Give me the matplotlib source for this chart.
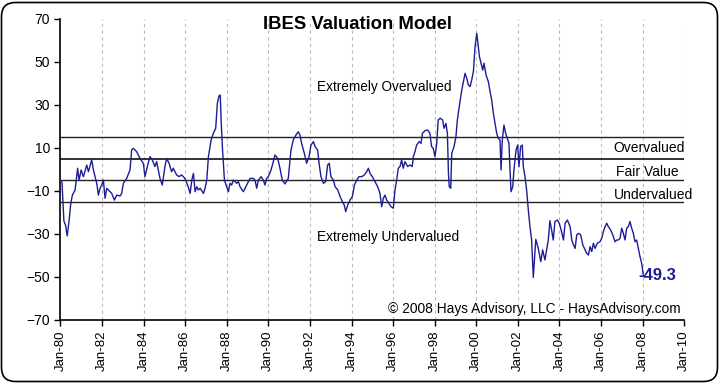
import matplotlib
matplotlib.use("Agg")
import matplotlib.pyplot as plt
from matplotlib.patches import FancyBboxPatch

plt.rcParams['font.family'] = ['Liberation Sans', 'DejaVu Sans']

# IBES valuation model readings (fractional year, % over/under valued)
years = [
    1980.0, 1980.08, 1980.17, 1980.25, 1980.33, 1980.42, 1980.5, 1980.58,
    1980.71, 1980.83, 1980.9, 1981.0, 1981.11, 1981.27, 1981.35, 1981.51,
    1981.59, 1981.75, 1981.83, 1981.91, 1981.99, 1982.07, 1982.15, 1982.23,
    1982.31, 1982.47, 1982.6, 1982.71, 1982.87, 1982.95, 1983.03, 1983.19,
    1983.35, 1983.43, 1983.51, 1983.67, 1983.83, 1983.99, 1984.07, 1984.2,
    1984.31, 1984.42, 1984.55, 1984.63, 1984.71, 1984.79, 1984.9, 1985.03,
    1985.11, 1985.23, 1985.35, 1985.43, 1985.59, 1985.71, 1985.83, 1985.99,
    1986.15, 1986.24, 1986.32, 1986.4, 1986.48, 1986.56, 1986.64, 1986.72,
    1986.88, 1986.96, 1987.04, 1987.12, 1987.25, 1987.36, 1987.47, 1987.55,
    1987.63, 1987.69, 1987.73, 1987.79, 1987.89, 1988.0, 1988.08, 1988.16,
    1988.24, 1988.32, 1988.48, 1988.56, 1988.64, 1988.8, 1988.96, 1989.12,
    1989.28, 1989.36, 1989.44, 1989.52, 1989.65, 1989.76, 1989.84, 1989.92,
    1990.0, 1990.13, 1990.24, 1990.32, 1990.45, 1990.56, 1990.67, 1990.8,
    1990.96, 1991.09, 1991.2, 1991.33, 1991.44, 1991.52, 1991.6, 1991.73,
    1991.84, 1991.96, 1992.05, 1992.17, 1992.25, 1992.37, 1992.44, 1992.53,
    1992.65, 1992.76, 1992.85, 1992.93, 1993.01, 1993.13, 1993.21, 1993.34,
    1993.45, 1993.56, 1993.65, 1993.72, 1993.82, 1993.93, 1994.04, 1994.14,
    1994.25, 1994.36, 1994.49, 1994.62, 1994.73, 1994.81, 1994.89, 1995.0,
    1995.13, 1995.26, 1995.37, 1995.45, 1995.53, 1995.61, 1995.69, 1995.8,
    1995.9, 1996.01, 1996.09, 1996.17, 1996.25, 1996.33, 1996.41, 1996.49,
    1996.57, 1996.7, 1996.81, 1996.92, 1996.97, 1997.05, 1997.13, 1997.25,
    1997.34, 1997.41, 1997.53, 1997.66, 1997.77, 1997.85, 1997.93, 1998.01,
    1998.09, 1998.17, 1998.26, 1998.38, 1998.45, 1998.54, 1998.61, 1998.66,
    1998.7, 1998.77, 1998.82, 1998.93, 1999.02, 1999.09, 1999.18, 1999.3,
    1999.38, 1999.46, 1999.54, 1999.62, 1999.7, 1999.78, 1999.86, 1999.94,
    2000.02, 2000.07, 2000.15, 2000.23, 2000.31, 2000.37, 2000.47, 2000.58,
    2000.66, 2000.74, 2000.82, 2000.9, 2000.98, 2001.06, 2001.14, 2001.19,
    2001.25, 2001.33, 2001.41, 2001.49, 2001.57, 2001.62, 2001.67, 2001.75,
    2001.81, 2001.91, 2001.99, 2002.05, 2002.13, 2002.21, 2002.26, 2002.34,
    2002.42, 2002.5, 2002.58, 2002.66, 2002.74, 2002.86, 2002.98, 2003.1,
    2003.19, 2003.3, 2003.38, 2003.46, 2003.54, 2003.62, 2003.7, 2003.78,
    2003.9, 2003.99, 2004.1, 2004.19, 2004.27, 2004.38, 2004.51, 2004.59,
    2004.67, 2004.75, 2004.83, 2004.91, 2005.02, 2005.12, 2005.23, 2005.31,
    2005.39, 2005.47, 2005.55, 2005.63, 2005.71, 2005.82, 2005.95, 2006.03,
    2006.11, 2006.19, 2006.27, 2006.35, 2006.46, 2006.56, 2006.67, 2006.75,
    2006.83, 2006.91, 2006.99, 2007.07, 2007.15, 2007.23, 2007.31, 2007.39,
    2007.47, 2007.55, 2007.63, 2007.71, 2007.79, 2007.87, 2007.95, 2008.03,
]
ibes = [
    -5, -6, -24, -26, -31, -24, -16, -12,
    -9.6, 0.5, -5, -0.3, -3.4, 2.0, -1.1, 4.4,
    -0.3, -6.5, -12, -8.8, -7.3, -5, -13.5, -8.8,
    -9.6, -11.2, -14.3, -12, -12.4, -11.2, -6.5, -4.2,
    -0.3, 9.0, 9.8, 8.2, 5.1, 2.8, -3.4, 2.0,
    5.9, 4.4, 1.3, 3.6, -0.3, -4.2, -7.3, 1.3,
    5.1, 2.8, -1.1, 0.5, -2.6, -3.4, -2.6, -4.2,
    -8.1, -11.2, -5, -1.9, -10.4, -8.1, -9.6, -8.8,
    -11.2, -8.8, -5, 5.9, 13.7, 16.8, 19.1, 30.7,
    34.2, 34.6, 23, 10.6, -5, -8.1, -10.4, -6.5,
    -7.3, -5, -6.5, -5.7, -8.1, -10.4, -7.3, -4.2,
    -4.2, -5, -8.8, -5, -3.4, -5, -7.3, -4.2,
    -3.4, -0.3, 3.6, 6.7, 5.1, 0.5, -5, -6.8,
    -4.2, 9.0, 13.7, 16, 17.5, 16, 12.1, 7.5,
    2.8, 5.9, 11.3, 12.9, 10.6, 9.0, 2.8, -3.4,
    -6.5, -5.7, 2.0, 2.8, -3.4, -5, -8.1, -9.6,
    -12.7, -15, -16.6, -19.7, -16.6, -14.3, -12.7, -7.3,
    -5, -3.4, -3.4, -2.6, -1.1, 0.5, -1.9, -3.4,
    -5.7, -8.1, -11.2, -17.4, -13.5, -12, -14.3, -15.8,
    -17.4, -18.1, -9.6, -5, 0.5, 1.3, 4.4, 0.5,
    3.6, 1.3, 2.0, 1.3, 5.9, 8.2, 11.3, 12.9,
    12.1, 16.8, 18, 18.3, 16.8, 10.6, 9.8, 5.9,
    11.3, 23, 23.8, 23, 19.1, 21.4, 16.8, -1.9,
    -8.1, -8.8, 7.5, 10.6, 15.2, 23, 29.2, 36.9,
    40.8, 44.7, 42.4, 39.3, 38.5, 41.6, 45.5, 57.1,
    63.3, 59.4, 52.5, 49.4, 46.2, 49.4, 43.9, 40.8,
    36.2, 32.3, 26.1, 21.4, 16.8, 14.4, 13.7, -0.3,
    13.7, 20.6, 16.8, 14.4, 12.1, -0.3, -10.4, -8.1,
    -0.3, 9, 11.3, 1.2, 10.6, 11.3, 1.2, -3.4,
    -9.6, -18.9, -26.7, -32.9, -50.3, -32.6, -36.8, -43,
    -37.5, -42.2, -37.5, -32.9, -23.9, -28.2, -32.9, -24.3,
    -23.6, -25.1, -29, -32.9, -25.1, -23.6, -26.7, -32.9,
    -35.2, -36.8, -30.5, -29.8, -30.5, -35.2, -37.5, -39.1,
    -39.9, -36, -38.3, -34.4, -36.8, -34.4, -33.7, -32.1,
    -29, -26.7, -25.1, -26.7, -28.2, -30.5, -33.7, -32.9,
    -32.9, -32.1, -27.4, -29.8, -32.9, -27.4, -26.7, -24.3,
    -27.4, -29.8, -33.7, -32.9, -36.8, -40.6, -43.7, -49.3,
]

# valuation bands
band_levels = [15, 5, -5, -15]
band_labels = ["Overvalued", "Fair Value", "Undervalued"]
tick_years = list(range(1980, 2011, 2))
tick_labels = ["Jan-%02d" % (y % 100) for y in tick_years]
y_ticks = list(range(-70, 71, 20))

fig = plt.figure(figsize=(7.2, 3.83), dpi=100)
ax = fig.add_axes([0.0838, 0.1653, 0.8666, 0.7851])

# rounded frame round the whole picture
frame = FancyBboxPatch((0.015, 0.015), 7.16, 3.79,
                       boxstyle="round,pad=0,rounding_size=0.14",
                       transform=fig.dpi_scale_trans, fill=False,
                       edgecolor="black", linewidth=1.2, clip_on=False)
fig.patches.append(frame)

for y in tick_years[1:]:
    ax.axvline(y, color="#bbbbbb", linestyle=(0, (3, 3)), linewidth=0.8, zorder=1)

for lv in band_levels:
    lw = 1.3 if lv == 5 else 1.0
    ax.axhline(lv, color="#222222", linewidth=lw, zorder=2)

ax.plot(years, ibes, color="#1c1c96", linewidth=1.0, zorder=3)

ax.set_xlim(1980, 2010)
ax.set_ylim(-70, 70)
ax.set_xticks(tick_years)
ax.set_xticklabels(tick_labels, rotation=90, fontsize=9.5)
ax.set_yticks(y_ticks)
ax.tick_params(axis="y", labelsize=10, length=4, width=1)
ax.tick_params(axis="x", length=4, width=1)
for s in ["top", "right"]:
    ax.spines[s].set_visible(False)
ax.spines["left"].set_linewidth(1.2)
ax.spines["bottom"].set_linewidth(1.2)

fig.text(0.496, 0.936, "IBES Valuation Model", fontsize=13.3,
         fontweight="bold", ha="center", va="center")

ax.text(1992.33, 38.3, "Extremely Overvalued", fontsize=9.8, va="center")
ax.text(1992.33, -31.5, "Extremely Undervalued", fontsize=9.8, va="center")
ax.text(2006.6, 9.9, band_labels[0], fontsize=10, va="center")
ax.text(2006.7, -1.3, band_labels[1], fontsize=10, va="center")
ax.text(2006.6, -12.0, band_labels[2], fontsize=10, va="center", clip_on=False)
ax.text(1995.75, -65.0, "\u00a9 2008 Hays Advisory, LLC - HaysAdvisory.com",
        fontsize=9.9, va="center")
ax.text(2007.77, -49.3, "%.1f" % ibes[-1], fontsize=12, fontweight="bold",
        color="#1c1c96", va="center")

fig.savefig("out.png", dpi=100)
